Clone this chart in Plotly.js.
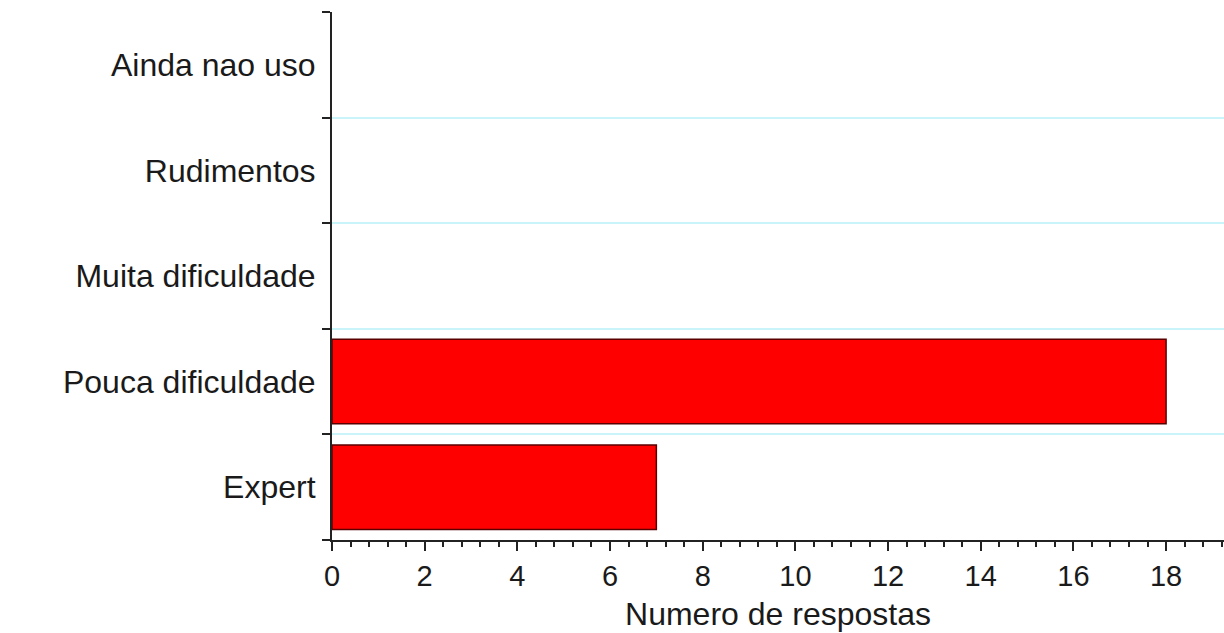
<!DOCTYPE html>
<html>
<head>
<meta charset="utf-8">
<script src="https://cdn.plot.ly/plotly-3.0.1.min.js"></script>
<style>html,body{margin:0;padding:0;background:#fff;}#chart{width:1224px;height:633px;}</style>
</head>
<body>
<div id="chart"></div>
<script>
const categories = ["Expert", "Pouca dificuldade", "Muita dificuldade", "Rudimentos", "Ainda nao uso"];
const values = [7, 18, 0, 0, 0];
const xTickVals = [0, 2, 4, 6, 8, 10, 12, 14, 16, 18];

const font = "Liberation Sans, Arial, sans-serif";

const data = [{
  type: "bar",
  orientation: "h",
  y: categories,
  x: values,
  width: 0.8,
  marker: {
    color: "#ff0000",
    line: {color: values.map(v => v === 0 ? "rgba(0,0,0,0)" : "#5a0000"), width: 1.5}
  },
  hoverinfo: "x+y"
}];

const layout = {
  width: 1224,
  height: 633,
  margin: {l: 332, r: 0, t: 12, b: 93},
  paper_bgcolor: "#ffffff",
  plot_bgcolor: "#ffffff",
  showlegend: false,
  font: {family: font, color: "#1a1a1a", size: 32},
  xaxis: {
    range: [0, 19.25],
    tickvals: xTickVals,
    ticks: "outside",
    ticklen: 9,
    tickwidth: 2,
    tickcolor: "#222",
    minor: {dtick: 0.4, ticks: "outside", ticklen: 5, tickwidth: 2, tickcolor: "#222", showgrid: false},
    showline: true,
    linecolor: "#222",
    linewidth: 2,
    showgrid: false,
    zeroline: false,
    tickfont: {family: font, size: 29, color: "#1a1a1a"},
    title: {text: "Numero de respostas", font: {family: font, size: 32, color: "#1a1a1a"}, standoff: 12}
  },
  yaxis: {
    type: "category",
    categoryorder: "array",
    categoryarray: categories,
    range: [-0.5, 4.5],
    tickson: "boundaries",
    ticks: "outside",
    ticklen: 8,
    tickwidth: 2,
    tickcolor: "#222",
    showline: true,
    linecolor: "#222",
    linewidth: 2,
    showgrid: true,
    gridcolor: "#c8f4fa",
    gridwidth: 2,
    zeroline: false,
    ticklabelstandoff: 8,
    tickfont: {family: font, size: 32, color: "#1a1a1a"}
  }
};

Plotly.newPlot("chart", data, layout, {displayModeBar: false, staticPlot: true});
</script>
</body>
</html>
